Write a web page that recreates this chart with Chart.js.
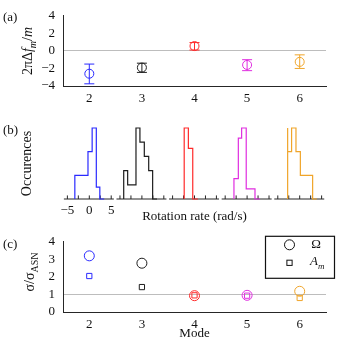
<!DOCTYPE html>
<html>
<head>
<meta charset="utf-8">
<script src="https://cdn.jsdelivr.net/npm/chart.js@4.4.0/dist/chart.umd.min.js"></script>
<style>
  body { margin: 0; background: #fff; }
  #fig { position: relative; width: 341px; height: 346px; font-family: "Liberation Serif", serif; color: #111; }
  #fig canvas { position: absolute; left: 0; }
  .tag { position: absolute; left: 3px; font-size: 13px; line-height: 13px; }
  .ytitle { position: absolute; font-size: 14px; line-height: 14px; white-space: nowrap;
            transform: translate(-50%, -50%) rotate(-90deg); }
  .ytitle sub { font-size: 10px; line-height: 0; vertical-align: -4px; }
</style>
</head>
<body>
<div id="fig">
  <canvas id="chartA" width="341" height="108" style="top:0"></canvas>
  <canvas id="chartB" width="341" height="118" style="top:108px"></canvas>
  <canvas id="chartC" width="341" height="120" style="top:226px"></canvas>
  <div class="tag" style="top:10px">(a)</div>
  <div class="tag" style="top:123px">(b)</div>
  <div class="tag" style="top:237px">(c)</div>
  <div class="ytitle" style="left:28px; top:51px">2πΔ<i>f</i><sub><i>m</i></sub>/<i>m</i></div>
  <div class="ytitle" style="left:30px; top:272px">σ/σ<sub>ASN</sub></div>
</div>
<script>
// modes and their colours
const modes = [2, 3, 4, 5, 6];
const modeColors = ['#2a2aff', '#1e1e1e', '#ff2a2a', '#e02ee0', '#f0a52a'];

// (a) frequency shift with error bar limits
const shift = [-2.6, -1.9, 0.55, -1.6, -1.25];
const shiftLow = [-3.75, -2.45, 0.1, -2.25, -2.0];
const shiftHigh = [-1.5, -1.4, 0.95, -1.0, -0.45];
const shiftTicks = [-4, -2, 0, 2, 4];
const shiftRef = 0;

// (b) rotation rate histograms: bin edges (rad/s) and counts
const edgesMode2 = [-3.3, -0.3, 0.65, 1.6, 2.4, 3.4];
const countsMode2 = [1, 2, 4, 6, 1];
const edgesMode3 = [-4.15, -3.25, -1.35, -0.45, 0.55, 1.55, 2.45, 3.45];
const countsMode3 = [1, 2, 1, 5, 4, 3, 2];
const edgesMode4 = [-2.35, -1.4, -0.4, 0.75];
const countsMode4 = [1, 7, 5];
const edgesMode5 = [-3.0, -2.0, -1.25, -0.2, 1.8, 2.9];
const countsMode5 = [1, 2, 6, 7, 1];
const edgesMode6 = [-2.75, -1.85, -0.85, 0.15, 2.95, 3.9];
const countsMode6 = [3, 2, 3, 2, 1];
const rateTicks = [-5, -2.5, 0, 2.5, 5];
const rateLabelTicks = [-5, 0, 5];

// (c) normalised standard deviations
const sigmaOmega = [3.2, 2.78, 0.93, 0.95, 1.18];
const sigmaAm = [2.05, 1.42, 0.95, 0.93, 0.8];
const sigmaTicks = [0, 1, 2, 3, 4];
const sigmaRef = 1;

const histEdges = [edgesMode2, edgesMode3, edgesMode4, edgesMode5, edgesMode6];
const histCounts = [countsMode2, countsMode3, countsMode4, countsMode5, countsMode6];

const FONT = '"Liberation Serif", serif';
const axisColor = '#262626';
const refLineColor = '#bdbdbd';
const modeMin = 1.5, modeMax = 6.5;
const PANEL_SPAN = 12;

Chart.defaults.font.family = FONT;
Chart.defaults.font.size = 13;
Chart.defaults.color = '#111';
Chart.defaults.animation = false;
Chart.defaults.responsive = false;
Chart.defaults.plugins.legend.display = false;
Chart.defaults.plugins.tooltip.enabled = false;

function fmtNum(v) {
  return v < 0 ? '\u2212' + Math.abs(v) : String(v);
}

function modeAxis(height, title) {
  return {
    type: 'linear', min: modeMin, max: modeMax,
    afterBuildTicks: s => { s.ticks = modes.map(v => ({ value: v })); },
    grid: { display: false, drawTicks: false },
    border: { display: true, color: axisColor, width: 1 },
    ticks: { padding: 5, autoSkip: false, maxRotation: 0 },
    title: title ? { display: true, text: title, padding: { top: 0, bottom: 5 } } : { display: false },
    afterFit: s => { s.height = height; }
  };
}

// value axis; the grey reference line is the grid line at refValue
function valueAxis(min, max, tickValues, refValue) {
  return {
    min: min, max: max,
    afterBuildTicks: s => { s.ticks = tickValues.map(v => ({ value: v })); },
    grid: {
      display: true, drawTicks: false, lineWidth: 1,
      color: c => (c.tick && c.tick.value === refValue ? refLineColor : 'rgba(0,0,0,0)')
    },
    border: { display: true, color: axisColor, width: 1 },
    ticks: { padding: 8, autoSkip: false, color: '#111', callback: fmtNum },
    afterFit: s => { s.width = 63; }
  };
}

// ---------- (a) ----------
const errorBars = modes.map((m, i) => ({
  type: 'line',
  data: [{ x: m, y: shiftLow[i] }, { x: m, y: shiftHigh[i] }],
  borderColor: modeColors[i],
  borderWidth: 1,
  pointStyle: 'line',
  pointRadius: 5,
  pointBorderColor: modeColors[i],
  pointBorderWidth: 1
}));

new Chart(document.getElementById('chartA'), {
  type: 'scatter',
  data: {
    datasets: [
      {
        type: 'scatter',
        data: modes.map((m, i) => ({ x: m, y: shift[i] })),
        pointRadius: 4.5,
        pointBorderWidth: 1,
        pointBorderColor: modeColors,
        pointBackgroundColor: 'rgba(0,0,0,0)'
      },
      ...errorBars
    ]
  },
  options: {
    layout: { padding: { top: 15, right: 15, left: 0, bottom: 0 } },
    scales: {
      x: modeAxis(22),
      y: valueAxis(-4, 4, shiftTicks, shiftRef)
    }
  }
});

// ---------- (b) ----------
function stepPoints(edges, counts, offset) {
  const pts = [{ x: offset + edges[0], y: 0 }];
  counts.forEach((c, k) => pts.push({ x: offset + edges[k], y: c }));
  pts.push({ x: offset + edges[edges.length - 1], y: 0 });
  return pts;
}

const histSets = histEdges.map((edges, i) => ({
  type: 'line',
  data: stepPoints(edges, histCounts[i], i * PANEL_SPAN),
  stepped: 'after',
  borderColor: modeColors[i],
  borderWidth: 1.2,
  pointRadius: 0,
  yAxisID: 'y' + i,
  clip: false
}));

const baseSets = histEdges.map((e, i) => ({
  type: 'line',
  data: [{ x: i * PANEL_SPAN - 5.8, y: 0 }, { x: i * PANEL_SPAN + 5.6, y: 0 }],
  borderColor: axisColor,
  borderWidth: 1,
  pointRadius: 0,
  yAxisID: 'y0',
  clip: false
}));

const tickSet = {
  type: 'scatter',
  data: histEdges.flatMap((e, i) => rateTicks.map(t => ({ x: i * PANEL_SPAN + t, y: 0.15 }))),
  pointStyle: 'line',
  pointRotation: 90,
  pointRadius: 1.8,
  pointBorderWidth: 1,
  pointBorderColor: axisColor,
  yAxisID: 'y0',
  clip: false
};

const histScales = {
  x: {
    type: 'linear', min: -6, max: 4 * PANEL_SPAN + 6,
    afterBuildTicks: s => { s.ticks = rateLabelTicks.map(v => ({ value: v })); },
    grid: { display: false, drawTicks: false },
    border: { display: false },
    ticks: { padding: 4, autoSkip: false, maxRotation: 0, callback: fmtNum },
    title: { display: true, text: 'Rotation rate (rad/s)', padding: { top: 0, bottom: 2 } },
    afterFit: s => { s.height = 27; }
  }
};
histCounts.forEach((c, i) => {
  const scale = {
    type: 'linear', position: 'left', min: 0, max: Math.max(...c),
    display: i === 0,
    grid: { display: false, drawTicks: false },
    border: { display: false },
    ticks: { display: false },
    title: { display: i === 0, text: 'Occurences', font: { size: 14 }, padding: { top: 19, bottom: 0 } }
  };
  if (i === 0) scale.afterFit = s => { s.width = 63; };
  histScales['y' + i] = scale;
});

new Chart(document.getElementById('chartB'), {
  type: 'line',
  data: { datasets: [...histSets, ...baseSets, tickSet] },
  options: {
    layout: { padding: { top: 20, right: 15, left: 0, bottom: 0 } },
    scales: histScales
  }
});

// ---------- (c) ----------
const legendBox = {
  id: 'legendBox',
  afterDraw(chart) {
    const { ctx, chartArea } = chart;
    const w = 70, h = 43;
    const right = chartArea.right + 9, top = chartArea.top - 6;
    const left = right - w;
    const circ = chart.data.datasets[0], sq = chart.data.datasets[1];
    ctx.save();
    ctx.strokeStyle = '#111';
    ctx.fillStyle = '#111';
    ctx.lineWidth = 1.2;
    ctx.strokeRect(left + 0.5, top + 0.5, w - 1, h - 1);
    ctx.lineWidth = 1;
    ctx.beginPath();
    ctx.arc(left + 24.5, top + 9, circ.pointRadius, 0, Math.PI * 2);
    ctx.stroke();
    const half = sq.pointRadius * Math.SQRT1_2;
    ctx.strokeRect(left + 24.5 - half, top + 27 - half, half * 2, half * 2);
    ctx.textBaseline = 'middle';
    ctx.textAlign = 'center';
    ctx.font = '13px ' + FONT;
    ctx.fillText('\u03a9', left + 51, top + 9);
    ctx.textAlign = 'left';
    ctx.font = 'italic 13px ' + FONT;
    ctx.fillText('A', left + 45, top + 26);
    const aw = ctx.measureText('A').width;
    ctx.font = 'italic 9px ' + FONT;
    ctx.fillText('m', left + 45 + aw, top + 31);
    ctx.restore();
  }
};

new Chart(document.getElementById('chartC'), {
  type: 'scatter',
  data: {
    datasets: [
      {
        data: modes.map((m, i) => ({ x: m, y: sigmaOmega[i] })),
        pointStyle: 'circle',
        pointRadius: 5,
        pointBorderWidth: 1,
        pointBorderColor: modeColors,
        pointBackgroundColor: 'rgba(0,0,0,0)'
      },
      {
        data: modes.map((m, i) => ({ x: m, y: sigmaAm[i] })),
        pointStyle: 'rect',
        pointRadius: 3.7,
        pointBorderWidth: 1,
        pointBorderColor: modeColors,
        pointBackgroundColor: 'rgba(0,0,0,0)'
      }
    ]
  },
  options: {
    layout: { padding: { top: 14, right: 15, left: 0, bottom: 0 } },
    scales: {
      x: modeAxis(34, 'Mode'),
      y: valueAxis(0, 4, sigmaTicks, sigmaRef)
    }
  },
  plugins: [legendBox]
});
</script>
</body>
</html>
